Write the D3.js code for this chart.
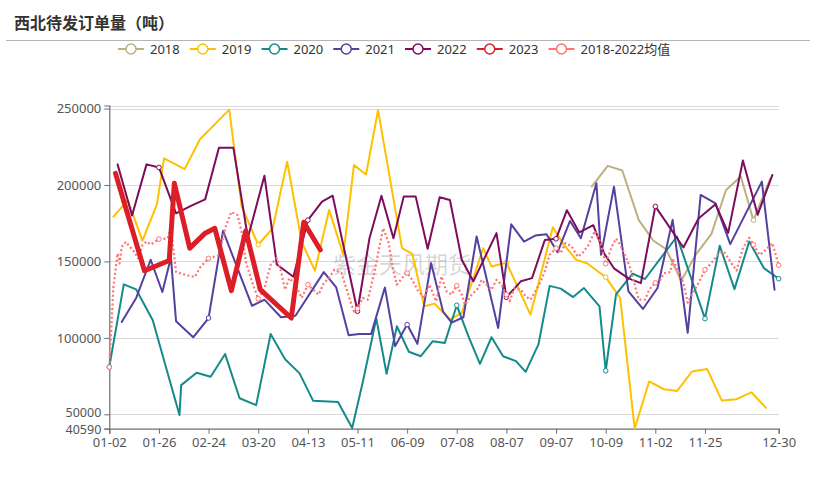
<!DOCTYPE html>
<html><head><meta charset="utf-8">
<script src="https://cdn.jsdelivr.net/npm/d3@7"></script>
<style>body{margin:0;background:#fff;} svg{display:block;font-family:"Noto Sans",sans-serif;}</style>
</head><body>
<svg id="chart" width="827" height="478"></svg>
<script>
// ---------------- data ----------------
const chartTitle = "西北待发订单量（吨）";
const watermark = "紫金天风期货";
const xTickLabels = ["01-02","01-26","02-24","03-20","04-13","05-11","06-09","07-08","08-07","09-07","10-09","11-02","11-25","12-30"];
const symbolDates = ["01-02","01-26","02-24","03-20","04-13","05-11","06-09","07-08","08-07","09-07","10-09","11-02","11-25","12-18","12-30"];
const yTickValues = [50000,100000,150000,200000,250000];
const yMin = 40590, yMax = 252000;

const dates2018 = ["09-30","10-10","10-17","10-25","11-01","11-07","11-14","11-21","11-28","12-05","12-12","12-18","12-26"];
const values2018 = [199000,212500,209500,177000,163700,158000,137400,155000,167800,196700,205600,177000,204000];

const dates2019 = ["01-04","01-11","01-18","01-25","01-29","02-10","02-19","03-06","03-12","03-20","03-27","04-03","04-10","04-17","04-25","05-03","05-09","05-16","05-23","06-06","06-12","06-19","06-25","07-04","07-11","07-24","07-29","08-07","08-22","09-05","09-12","09-20","09-27","10-09","10-16","10-23","10-30","11-06","11-12","11-19","11-26","12-03","12-10","12-17","12-24"];
const values2019 = [179300,190000,163500,187400,217400,210400,229900,249300,186000,160900,171700,215200,162800,143900,183700,154300,213000,206900,249000,158700,155000,120700,122400,112000,116300,158700,146700,149300,115200,172400,161000,151000,148800,139700,126000,40590,71500,66400,65200,78000,79700,59000,59900,64400,54200];

const dates2020 = ["01-02","01-09","01-15","01-23","02-07","02-08","02-17","02-25","03-04","03-11","03-19","03-26","04-02","04-09","04-16","04-30","05-08","05-14","05-22","05-28","06-03","06-10","06-17","06-24","07-01","07-08","07-15","07-22","07-29","08-05","08-13","08-19","08-27","09-03","09-10","09-18","09-25","10-05","10-09","10-14","10-22","10-28","11-12","11-25","12-02","12-09","12-16","12-23","12-30"];
const values2020 = [81000,135000,131700,111500,49500,69100,77200,74600,89400,60500,56000,102500,86000,76800,58800,58000,41000,70600,112600,76500,107600,90900,88000,97800,96700,121300,101100,83000,100400,88000,84800,77800,95700,134000,132200,126700,132600,120600,78500,128500,142000,138500,166300,112600,160300,131900,163000,145600,138700];

const dates2021 = ["01-08","01-15","01-22","01-28","02-02","02-05","02-15","02-24","03-03","03-17","03-23","03-31","04-07","04-22","04-29","05-06","05-12","05-19","05-27","06-02","06-09","06-15","06-23","06-30","07-05","07-12","07-20","08-02","08-10","08-18","08-25","09-01","09-08","09-16","09-23","10-03","10-06","10-13","10-20","10-27","11-03","11-10","11-17","11-23","11-30","12-07","12-22","12-28"];
const values2021 = [110400,126100,151100,130000,152600,110900,100400,113000,170000,121000,125000,113500,114500,143000,133000,101700,102600,102600,133000,94600,108700,96100,148900,117100,110000,113500,166300,106500,174300,163000,166900,167800,156100,176500,165200,201100,154300,198900,130400,118900,132600,177200,103300,193500,188000,161300,202200,131500];

const dates2022 = ["01-06","01-13","01-20","01-26","02-05","02-14","02-22","03-01","03-08","03-15","03-23","03-29","04-06","04-13","04-21","04-27","05-11","05-18","05-25","06-01","06-07","06-14","06-21","06-28","07-04","07-11","07-18","08-01","08-07","08-16","08-23","08-31","09-07","09-14","09-22","10-01","10-08","10-13","10-20","10-26","11-02","11-15","11-22","11-30","12-06","12-13","12-20","12-27"];
const values2022 = [213500,180000,213500,211500,181500,186500,190600,224300,224300,165500,206100,148000,140000,177000,189100,193000,117400,165200,193000,165200,192400,192400,158300,192000,190200,151100,137000,168500,126500,137000,139100,164100,164800,183500,169000,173700,155200,145500,138900,135800,186000,159100,178100,187400,168700,216000,180500,206600];

const dates2023 = ["01-05","01-19","02-01","02-04","02-13","02-22","02-27","03-07","03-14","03-21","04-05","04-11","04-20"];
const values2023 = [207600,143900,150600,201100,158700,168500,171700,130900,170000,131500,113000,175600,157600];

const datesAvg = ["01-02","01-04","01-06","01-07","01-08","01-10","01-12","01-14","01-16","01-18","01-20","01-22","01-26","01-31","02-02","02-05","02-11","02-16","02-19","02-24","03-01","03-04","03-07","03-10","03-12","03-14","03-17","03-20","03-23","03-26","03-29","03-31","04-02","04-04","04-07","04-10","04-13","04-16","04-19","04-22","04-25","04-28","05-02","05-07","05-09","05-11","05-14","05-17","05-21","05-24","05-26","05-29","06-01","06-03","06-06","06-09","06-12","06-15","06-19","06-22","06-26","06-29","07-02","07-05","07-08","07-11","07-13","07-17","07-21","07-23","07-26","07-29","08-01","08-04","08-07","08-09","08-12","08-16","08-19","08-22","08-25","08-28","08-31","09-03","09-07","09-10","09-13","09-17","09-21","09-24","09-28","10-02","10-05","10-09","10-12","10-14","10-16","10-19","10-21","10-23","10-25","10-28","10-30","11-02","11-04","11-06","11-09","11-10","11-12","11-15","11-17","11-19","11-22","11-25","11-28","12-01","12-04","12-07","12-10","12-13","12-16","12-18","12-21","12-23","12-27","12-30"];
const valuesAvg = [80900,133400,155200,148700,159500,162800,159500,156300,152000,160600,163000,161000,164600,165000,171600,143200,141000,139900,146000,152000,154100,171600,182400,180300,169300,149700,136700,125600,132600,147800,152200,143500,131500,139100,134800,126100,134800,131500,128300,135900,139100,144600,142400,123900,117400,119100,126100,125000,143500,160900,171700,163000,143500,134800,139100,142400,138000,131500,126100,134800,123900,140200,130400,128300,134100,128300,121700,128300,132600,138000,134800,131500,138000,134800,128300,123900,132600,131500,127200,125000,130400,135900,143500,154300,158700,155400,162000,159800,153000,155400,160900,170000,164100,148500,159800,165000,160900,152200,145000,134800,125000,125000,131500,136000,137000,142400,143000,152000,145600,135900,123000,128300,135900,144500,148900,154300,156500,150000,144000,158700,165500,161000,154300,156500,162000,147500];

// ---------------- styles ----------------
const seriesStyle = {
  "2018": {color:"#bdb07f", width:2},
  "2019": {color:"#ffc000", width:2},
  "2020": {color:"#168a8a", width:2},
  "2021": {color:"#5540a0", width:2},
  "2022": {color:"#7d0d5c", width:2},
  "2023": {color:"#dc1f26", width:5},
  "2018-2022均值": {color:"#ff7373", width:2.2, dash:"2,2.4"}
};

const series = [
  {name:"2018", dates:dates2018, values:values2018},
  {name:"2019", dates:dates2019, values:values2019},
  {name:"2020", dates:dates2020, values:values2020},
  {name:"2021", dates:dates2021, values:values2021},
  {name:"2022", dates:dates2022, values:values2022},
  {name:"2023", dates:dates2023, values:values2023},
  {name:"2018-2022均值", dates:datesAvg, values:valuesAvg}
];
const drawOrder = ["2018","2019","2020","2021","2022","2018-2022均值","2023"];

// ---------------- chart ----------------
const svg = d3.select("#chart");
const plot = {left:109.3, right:778.7, top:105.5, bottom:428.7};
const labelStep = 49.64;
const parseMD = s => new Date(Date.UTC(2001, +s.slice(0,2)-1, +s.slice(3,5)));

const xRange = xTickLabels.map((d,i) => i < xTickLabels.length-1 ? plot.left + i*labelStep : plot.right);
const x = d3.scaleUtc().domain(xTickLabels.map(parseMD)).range(xRange);
const y = d3.scaleLinear().domain([yMin, yMax]).range([plot.bottom, plot.top]);

// title
svg.append("text").attr("x", 14).attr("y", 29).text(chartTitle)
  .attr("font-family", "'Noto Sans CJK SC', sans-serif").attr("font-weight", 700)
  .attr("font-size", 16).attr("fill", "#333");
svg.append("line").attr("x1", 6).attr("x2", 810).attr("y1", 40.5).attr("y2", 40.5)
  .attr("stroke", "#b5b5b5").attr("stroke-width", 1);

// grid
svg.append("g").selectAll("line").data(yTickValues.concat([yMax])).join("line")
  .attr("x1", plot.left).attr("x2", plot.right)
  .attr("y1", d => Math.round(y(d))+0.5).attr("y2", d => Math.round(y(d))+0.5)
  .attr("stroke", "#d9d9d9").attr("stroke-width", 1);

// watermark
svg.append("text").attr("x", 402).attr("y", 273).attr("text-anchor", "middle")
  .attr("font-family", "'Noto Sans CJK SC', sans-serif").attr("font-size", 23)
  .attr("fill", "#8a8a8a").attr("fill-opacity", 0.35).text(watermark);

// axes
const yAxis = svg.append("g").attr("transform", `translate(${plot.left},0)`)
  .call(d3.axisLeft(y).tickValues([yMin].concat(yTickValues)).tickFormat(d3.format("d")).tickSize(5).tickPadding(3));
const xAxis = svg.append("g").attr("transform", `translate(0,${plot.bottom})`)
  .call(d3.axisBottom(x).tickValues(xTickLabels.map(parseMD)).tickFormat(d3.utcFormat("%m-%d")).tickSize(5).tickPadding(4));
[yAxis, xAxis].forEach(g => {
  g.select(".domain").attr("stroke", "#6e6e6e").attr("stroke-width", 1.2);
  g.selectAll(".tick line").attr("stroke", "#6e6e6e");
  g.selectAll(".tick text").attr("fill", "#555").attr("font-size", 13)
    .attr("font-family", "'Noto Sans', sans-serif");
});
// keep the two lowest y labels from colliding
yAxis.selectAll(".tick text").filter(d => d === yMin).attr("dy", "0.42em").attr("font-size", 12.5);
yAxis.selectAll(".tick text").filter(d => d === 50000).attr("dy", "0.2em").attr("font-size", 12.5);

// lines
const line = d3.line().x(d => x(d.date)).y(d => y(d.value));
const seriesG = svg.append("g");
drawOrder.forEach(name => {
  const s = series.find(t => t.name === name);
  const st = seriesStyle[name];
  const pts = s.dates.map((d,i) => ({key:d, date:parseMD(d), value:s.values[i]}));
  const g = seriesG.append("g");
  g.append("path").datum(pts).attr("d", line)
    .attr("fill", "none").attr("stroke", st.color).attr("stroke-width", st.width)
    .attr("stroke-linejoin", "round").attr("stroke-linecap", st.dash ? "butt" : "round")
    .attr("stroke-dasharray", st.dash || null);
  g.selectAll("circle").data(pts.filter(p => symbolDates.includes(p.key))).join("circle")
    .attr("cx", d => x(d.date)).attr("cy", d => y(d.value)).attr("r", 2.3)
    .attr("fill", "#fff").attr("stroke", st.color).attr("stroke-width", 1);
});

// legend
const legend = svg.append("g");
let lx = 118;
const ly = 49;
series.forEach(s => {
  const st = seriesStyle[s.name];
  const item = legend.append("g");
  item.append("line").attr("x1", lx).attr("x2", lx+26).attr("y1", ly).attr("y2", ly)
    .attr("stroke", st.color).attr("stroke-width", 2);
  item.append("circle").attr("cx", lx+13).attr("cy", ly).attr("r", 5)
    .attr("fill", "#fff").attr("stroke", st.color).attr("stroke-width", 1.5);
  const t = item.append("text").attr("x", lx+32).attr("y", ly).attr("dy", "0.35em")
    .attr("font-size", 13).attr("fill", "#333")
    .attr("font-family", "'Noto Sans', 'Noto Sans CJK SC', sans-serif").text(s.name);
  lx += 32 + t.node().getComputedTextLength() + 10;
});
</script>
</body></html>
